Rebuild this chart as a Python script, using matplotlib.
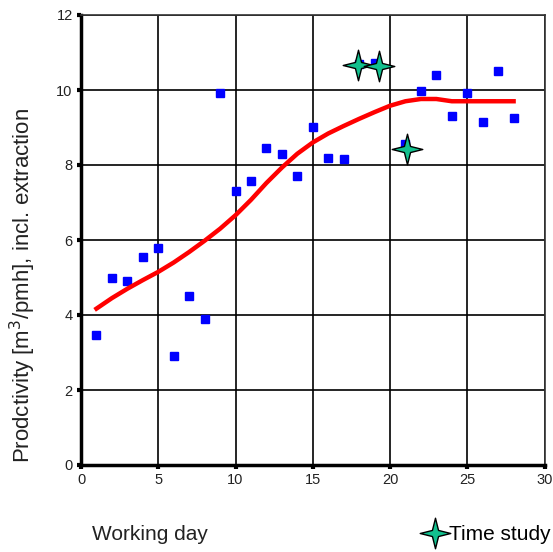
import matplotlib
matplotlib.use("Agg")
import matplotlib.pyplot as plt
from matplotlib.path import Path
from matplotlib.lines import Line2D
import numpy as np

plt.rcParams["font.family"] = ["Liberation Sans", "DejaVu Sans"]

# Observed productivity per working day
days = [1, 2, 3, 4, 5, 6, 7, 8, 9, 10, 11, 12, 13, 14, 15, 16, 17, 18, 19,
        21, 22, 23, 24, 25, 26, 27, 28]
productivity = [3.47, 5.0, 4.9, 5.55, 5.8, 2.9, 4.5, 3.9, 9.93, 7.3, 7.57,
                8.45, 8.3, 7.7, 9.02, 8.2, 8.15, 10.7, 10.72,
                8.57, 9.98, 10.4, 9.3, 9.93, 9.14, 10.5, 9.26]

# Smoothed trend
trend_days = list(range(1, 29))
trend = [4.17, 4.45, 4.70, 4.93, 5.15, 5.40, 5.68, 5.98, 6.30, 6.66, 7.07,
         7.52, 7.93, 8.30, 8.60, 8.84, 9.04, 9.23, 9.41, 9.58, 9.70, 9.76,
         9.76, 9.70, 9.70, 9.70, 9.70, 9.70]

# Time study observations
study_days = [17.9, 19.3, 21.1]
study_prod = [10.67, 10.63, 8.42]

# four-pointed star marker
w = 0.2
star = Path([(0, 1), (w, w), (1, 0), (w, -w), (0, -1),
             (-w, -w), (-1, 0), (-w, w), (0, 1)],
            [Path.MOVETO] + [Path.LINETO] * 7 + [Path.CLOSEPOLY])
STAR_COLOR = "#12c08e"
TEXT_COLOR = "#222222"

fig = plt.figure(figsize=(5.53, 5.52), dpi=100)
ax = fig.add_axes([81 / 553, 1 - 465 / 552, 463.5 / 553, 450 / 552])

ax.plot(days, productivity, linestyle="none", marker="s", markersize=5.5,
        color="#0000ff", zorder=3)
ax.plot(trend_days, trend, color="#ff0000", linewidth=3.2, zorder=4)
ax.plot(study_days, study_prod, linestyle="none", marker=star, markersize=22,
        markerfacecolor=STAR_COLOR, markeredgecolor="black",
        markeredgewidth=1, zorder=5)

ax.set_xlim(0, 30)
ax.set_ylim(0, 12)
ax.set_xticks(np.arange(0, 31, 5))
ax.set_yticks(np.arange(0, 13, 2))
ax.grid(True, color="black", linewidth=1.2)
ax.set_axisbelow(True)
ax.tick_params(length=3, width=3, color="black", labelsize=10.5,
               labelcolor=TEXT_COLOR, pad=3)

for side in ("left", "bottom"):
    ax.spines[side].set_linewidth(2.5)
    ax.spines[side].set_color("black")
for side in ("top", "right"):
    ax.spines[side].set_linewidth(1.2)
    ax.spines[side].set_color("#333333")

ax.set_ylabel("Prodctivity [m$^3$/pmh], incl. extraction", fontsize=16,
              color=TEXT_COLOR)
ax.yaxis.set_label_coords((38 - 81) / 463.5, (465 - 286) / 450)

fig.text(150 / 553, 1 - 535 / 552, "Working day", fontsize=15,
         color=TEXT_COLOR, ha="center", va="center")

handle = Line2D([], [], linestyle="none", marker=star, markersize=22,
                markerfacecolor=STAR_COLOR, markeredgecolor="black",
                markeredgewidth=1)
fig.legend([handle], ["Time study"], loc="center right",
           bbox_to_anchor=(1.0, 1 - 535 / 552), frameon=False, fontsize=15,
           handlelength=1.2, handletextpad=0.1, borderaxespad=0.0,
           borderpad=0.1)

fig.savefig("out.png", dpi=100)
plt.close(fig)
